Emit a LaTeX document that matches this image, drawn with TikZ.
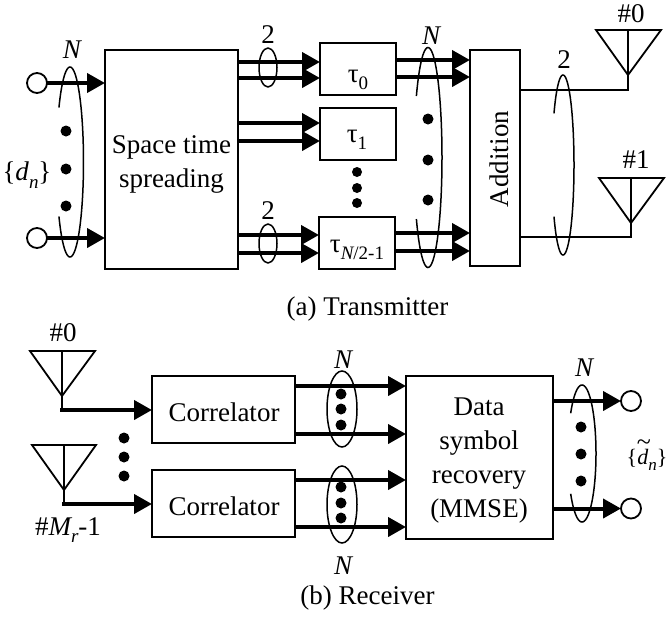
\documentclass[tikz,border=0pt]{standalone}
\usepackage{fontspec}
\setmainfont{Liberation Serif}
\usetikzlibrary{arrows.meta,calc}
\newcommand{\subt}[1]{\raisebox{-0.28em}{\fontsize{19}{19}\selectfont #1}}
\newcommand{\openell}[5]{\draw[ell,domain=180+#5:540-#5,samples=70,smooth,variable=\t]
  plot ({#1+#3*cos(\t)},{#2+#4*sin(\t)});}
\tikzset{
  x=1pt,y=-1pt,
  every node/.style={outer sep=0pt,inner sep=0pt,font=\fontsize{27}{34}\selectfont},
  blockbox/.style={draw,line width=1.8pt,align=center},
  port/.style={draw,circle,line width=1.8pt,minimum size=20pt,fill=white},
  thickarrow/.style={line width=4pt,-{Triangle[length=18pt,width=19pt]}},
  thinline/.style={line width=1.8pt},
  ell/.style={line width=1.5pt},
  dotmark/.style={fill,circle,minimum size=11pt},
  smalldot/.style={fill,circle,minimum size=10pt},
  antenna/.style={line width=1.8pt,line join=miter},
  lab/.style={text=black,align=center}
}
\begin{document}
\begin{tikzpicture}
\useasboundingbox[fill=white] (0,0) rectangle (669,619);

% ---- transmitter blocks
\node[blockbox,minimum width=133pt,minimum height=219pt] (sts) at (171.5,159.5) {};
\node[lab] (ststext) at (171.5,164) {Space time\\spreading};
\node[blockbox,minimum width=76pt,minimum height=52pt] (t0) at (358,69) {};
\node[blockbox,minimum width=76pt,minimum height=52pt] (t1) at (358,134) {};
\node[blockbox,minimum width=76pt,minimum height=52pt] (t2) at (357,243) {};
\node[lab] (t0l) at (358,80) {τ\subt{0}};
\node[lab] (t1l) at (357,140) {τ\subt{1}};
\node[lab] (t2l) at (357,250) {τ\subt{\itshape N\upshape/2-1}};
\node[blockbox,minimum width=50pt,minimum height=216pt] (add) at (495,158) {};
\node[lab,rotate=90] (addl) at (499,159) {Addition};

% ---- transmitter inputs
\node[port] (in0) at (37,83) {};
\node[port] (in1) at (37,238) {};
\draw[thickarrow] (in0.east) -- (sts.west |- in0);
\draw[thickarrow] (in1.east) -- (sts.west |- in1);
\openell{70}{162}{13.5}{95}{35}
\node[dotmark] (d1) at (66,131) {};
\node[dotmark] (d2) at (66,169) {};
\node[dotmark] (d3) at (66,206) {};
\node[lab] (nl) at (72,50) {\itshape N};
\node[lab] (dn) at (27,175) {\{{\itshape d}\raisebox{-0.28em}{\fontsize{19}{19}\selectfont\itshape n}\}};

% ---- spreading to delays
\foreach \yy/\tt in {62/t0,78/t0,123/t1,141/t1,235/t2,253/t2}
  \draw[thickarrow] (sts.east |- 0,\yy) -- (\tt.west |- 0,\yy);
\draw[ell] (268,67.5) ellipse [x radius=9pt,y radius=19.5pt];
\draw[ell] (268,243.5) ellipse [x radius=9pt,y radius=19.5pt];
\node[lab] (two1) at (268,35) {2};
\node[lab] (two2) at (268,211) {2};
\node[smalldot] (v1) at (357,172) {};
\node[smalldot] (v2) at (357,188) {};
\node[smalldot] (v3) at (357,203) {};

% ---- delays to addition
\foreach \yy/\tt in {60/t0,77/t0,233/t2,251/t2}
  \draw[thickarrow] (\tt.east |- 0,\yy) -- (add.west |- 0,\yy);
\openell{428}{157.5}{14}{110}{34}
\node[dotmark] (m1) at (428,119) {};
\node[dotmark] (m2) at (428,160) {};
\node[dotmark] (m3) at (428,200) {};
\node[lab] (nm) at (431,36) {\itshape N};

% ---- transmit antennas
\coordinate (a0) at (628,75);
\coordinate (a1) at (631,223);
\draw[antenna] (596,30) -- (661,30) -- (a0) -- cycle;
\draw[antenna] (628,30) -- (a0);
\draw[antenna] (599,178) -- (664,178) -- (a1) -- cycle;
\draw[antenna] (631,178) -- (a1);
\draw[thinline] (add.east |- 0,90) -| (a0);
\draw[thinline] (add.east |- 0,237) -| (a1);
\openell{563}{165}{11}{90}{35}
\node[lab] (two3) at (564,60) {2};
\node[lab] (h0) at (631,14) {\#0};
\node[lab] (h1) at (636,160) {\#1};
\node[lab] (capa) at (367.5,309) {(a) Transmitter};

% ---- receiver
\coordinate (r0) at (62,396);
\coordinate (r1) at (64,490);
\draw[antenna] (30,351) -- (95,351) -- (r0) -- cycle;
\draw[antenna] (62,351) -- (r0);
\draw[antenna] (32,445) -- (96,445) -- (r1) -- cycle;
\draw[antenna] (64,445) -- (r1);
\node[blockbox,minimum width=143pt,minimum height=67pt] (c0) at (223.5,409.5) {};
\node[blockbox,minimum width=143pt,minimum height=67pt] (c1) at (223.5,503.5) {};
\node[lab] (c0l) at (224,412) {Correlator};
\node[lab] (c1l) at (224,506) {Correlator};
\node[blockbox,minimum width=147pt,minimum height=163pt] (rec) at (479.5,457.5) {};
\node[lab] (recl) at (479,461) {Data\\symbol\\recovery\\(MMSE)};
\draw[thinline] (r0) -- (62,410);
\draw[thinline] (r1) -- (64,504);
\draw[thickarrow] (60,410) -- (c0.west |- 0,410);
\draw[thickarrow] (62,504) -- (c1.west |- 0,504);
\node[lab] (hr0) at (63,333) {\#0};
\node[lab] (hr1) at (68,530) {\#{\itshape M\raisebox{-0.28em}{\fontsize{19}{19}\selectfont r}}-1};
\node[dotmark] (q1) at (124,438) {};
\node[dotmark] (q2) at (124,457) {};
\node[dotmark] (q3) at (124,476) {};
\foreach \yy/\tt in {386/c0,434/c0,480/c1,527/c1}
  \draw[thickarrow] (\tt.east |- 0,\yy) -- (rec.west |- 0,\yy);
\draw[ell] (342,409) ellipse [x radius=15pt,y radius=38pt];
\draw[ell] (342,504.5) ellipse [x radius=15pt,y radius=38.5pt];
\foreach \yy/\nn in {394/e1,409/e2,425/e3,487/e4,503/e5,518/e6}
  \node[dotmark] (\nn) at (341,\yy) {};
\node[lab] (nr0) at (343,360) {\itshape N};
\node[lab] (nr1) at (343,566) {\itshape N};
\node[port] (o0) at (631,401) {};
\node[port] (o1) at (631,508.5) {};
\draw[thickarrow] (rec.east |- o0) -- (o0.west);
\draw[thickarrow] (rec.east |- o1) -- (o1.west);
\openell{582}{453.5}{14}{68.5}{36}
\node[dotmark] (f1) at (581,427) {};
\node[dotmark] (f2) at (581,454) {};
\node[dotmark] (f3) at (581,481) {};
\node[lab] (nr2) at (584,368) {\itshape N};
\node[lab,font=\fontsize{22}{22}\selectfont] (dt) at (647,460) {\{{\itshape\rlap{\kern-0.5pt\smash{\raisebox{14pt}{\fontsize{26}{26}\selectfont\upshape\symbol{126}}}}d\raisebox{-0.28em}{\fontsize{17}{17}\selectfont n}}\}};
\node[lab] (capb) at (367.5,598) {(b) Receiver};
\end{tikzpicture}
\end{document}
